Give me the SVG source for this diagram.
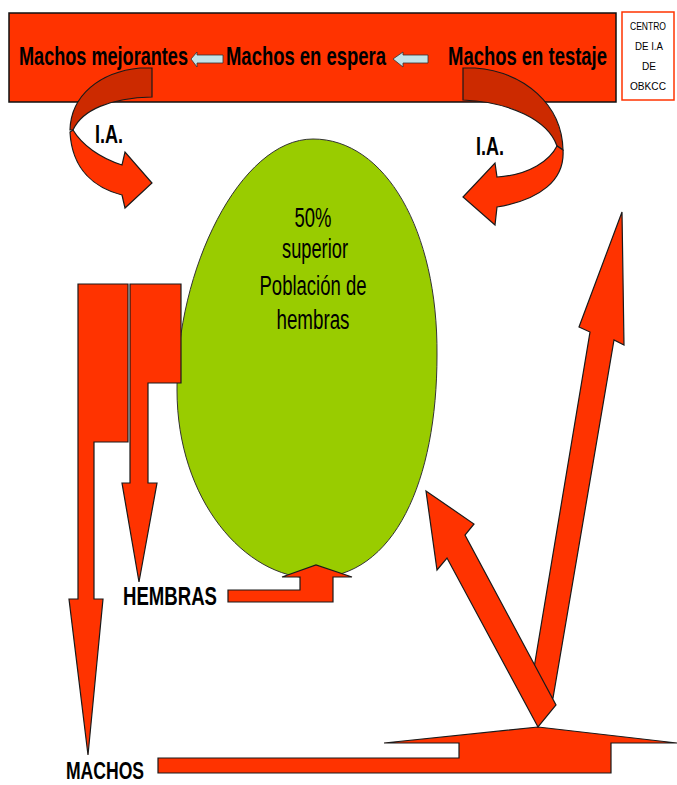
<svg xmlns="http://www.w3.org/2000/svg" width="677" height="785" viewBox="0 0 677 785">
<style>
.red{fill:#ff3300;stroke:#1a1a1a;stroke-width:1.2;stroke-linejoin:miter}
.dark{fill:#cc2a00;stroke:#1a1a1a;stroke-width:1.2;stroke-linejoin:miter}
.blue{fill:#c4e4e8;stroke:#333;stroke-width:0.8}
.t{font-family:"Liberation Sans",Arial,sans-serif;fill:#000}
.b{font-weight:bold}
.box{font-size:11px}
</style>
<rect width="677" height="785" fill="#fff"/>
<g id="banner"><rect x="9" y="13" width="607" height="89" fill="#ff3300" stroke="#111" stroke-width="1.5"/></g>
<g id="centro-box">
<rect x="622" y="12" width="52" height="88" fill="#fff" stroke="#ff3300" stroke-width="1.5"/>
<text class="t box" text-anchor="middle" x="648" y="30" textLength="36" lengthAdjust="spacingAndGlyphs">CENTRO</text>
<text class="t box" text-anchor="middle" x="649" y="50" textLength="28" lengthAdjust="spacingAndGlyphs">DE I.A</text>
<text class="t box" text-anchor="middle" x="649" y="70" textLength="14" lengthAdjust="spacingAndGlyphs">DE</text>
<text class="t box" text-anchor="middle" x="648" y="90" textLength="36" lengthAdjust="spacingAndGlyphs">OBKCC</text>
</g>
<g id="ellipse-node">
<path d="M313,139 C385,139 438,230 437,355 C437,480 395,578 313,578 C245,578 177,500 177,390 C176,270 240,139 313,139 Z" fill="#99cc00" stroke="#333" stroke-width="1"/>
<text class="t" font-size="27" text-anchor="middle" x="313" y="227" textLength="37" lengthAdjust="spacingAndGlyphs">50%</text>
<text class="t" font-size="27" text-anchor="middle" x="315" y="258" textLength="66" lengthAdjust="spacingAndGlyphs">superior</text>
<text class="t" font-size="27" text-anchor="middle" x="313" y="295" textLength="107" lengthAdjust="spacingAndGlyphs">Población de</text>
<text class="t" font-size="27" text-anchor="middle" x="313" y="329" textLength="73" lengthAdjust="spacingAndGlyphs">hembras</text>
</g>
<g id="connectors">
<path class="dark" d="M152,68 L140,68 C100,72 71,95 70,130 L73,130 C82,110 110,98 152,97 Z"/>
<path class="red" d="M73,130 C82,145 100,158 122,165 L125,152 L152,183 L125,208 L122,195 C95,188 72,170 70,132 Z"/>
<path class="dark" d="M463,68 L475,68 C525,72 562,105 563,150 L557,146 C548,120 510,102 463,100 Z"/>
<path class="red" d="M557,146 C550,160 530,175 497,177 L495,163 L463,197 L495,225 L497,207 C540,200 565,180 563,150 Z"/>
<polygon class="blue" points="191,59 197,52 197,55 223,55 223,63 197,63 197,67"/>
<polygon class="blue" points="393,59 403,52 403,55 428,55 428,63 403,63 403,67"/>
<polygon class="red" points="78,284 128,284 128,442 94,442 94,599 103,599 88,755 69,599 78,599"/>
<polygon class="red" points="130,284 181,284 181,383 148,383 148,483 157,483 139,582 122,483 130,483"/>
<polygon class="red" points="228,590 300,590 300,577 282,577 316,565 352,577 333,577 333,602 228,602"/>
<polygon class="red" points="158,758 459,758 459,743 384,743 538,727 677,743 611,743 611,773 158,773"/>
<polygon class="red" points="530,692 590,332 579,327 622,212 624,345 614,340 553,698"/>
<polygon class="red" points="538,727 447,558 437,570 426,491 474,524 465,535 556,705"/>
</g>
<g id="label-machos-mejorantes"><text class="t b" x="19" y="65" font-size="25" textLength="169" lengthAdjust="spacingAndGlyphs">Machos mejorantes</text></g>
<g id="label-machos-espera"><text class="t b" x="226" y="65" font-size="25" textLength="160" lengthAdjust="spacingAndGlyphs">Machos en espera</text></g>
<g id="label-machos-testaje"><text class="t b" x="448" y="65" font-size="25" textLength="159" lengthAdjust="spacingAndGlyphs">Machos en testaje</text></g>
<g id="label-ia-left"><text class="t b" x="95" y="143" font-size="26" textLength="28" lengthAdjust="spacingAndGlyphs">I.A.</text></g>
<g id="label-ia-right"><text class="t b" x="476" y="155" font-size="26" textLength="28" lengthAdjust="spacingAndGlyphs">I.A.</text></g>
<g id="label-hembras"><text class="t b" x="123" y="605" font-size="25" textLength="94" lengthAdjust="spacingAndGlyphs">HEMBRAS</text></g>
<g id="label-machos"><text class="t b" x="66" y="779" font-size="24" textLength="78" lengthAdjust="spacingAndGlyphs">MACHOS</text></g>
</svg>
